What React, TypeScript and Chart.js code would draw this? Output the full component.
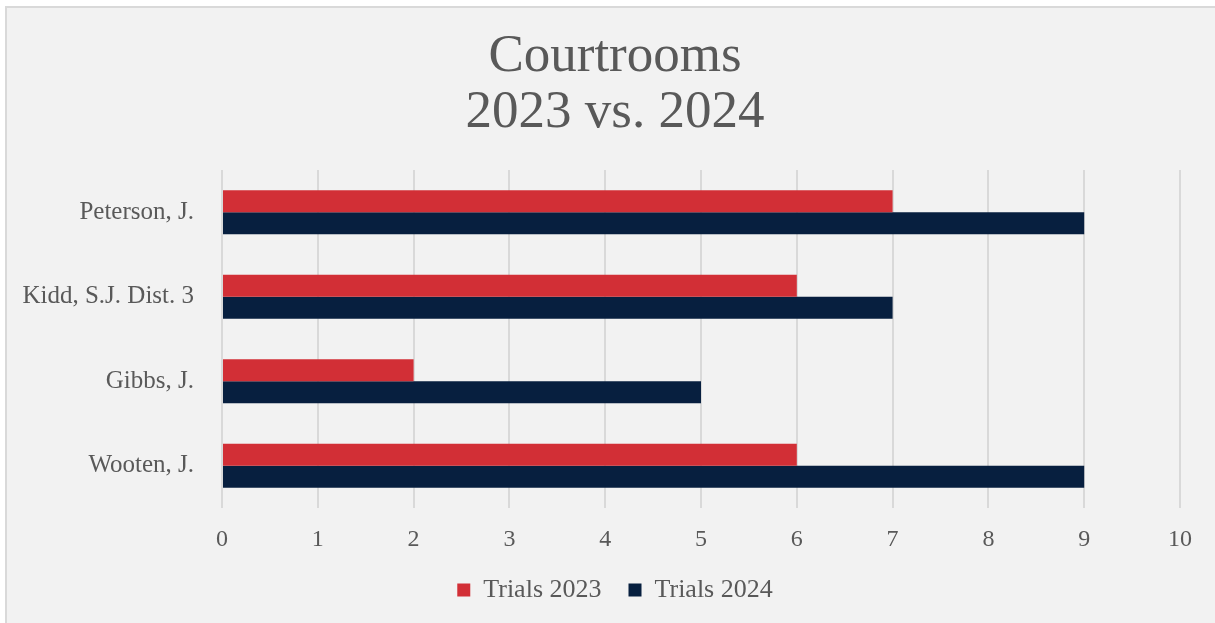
import React, { useEffect, useRef } from "react";
import { Chart, registerables } from "chart.js";

Chart.register(...registerables);

const categories = ["Peterson, J.", "Kidd, S.J. Dist. 3", "Gibbs, J.", "Wooten, J."];
const trials2023 = [7, 6, 2, 6];
const trials2024 = [9, 7, 5, 9];
const seriesNames = ["Trials 2023", "Trials 2024"];
const titleLines = ["Courtrooms", "2023 vs. 2024"];
const xMin = 0;
const xMax = 10;

const FONT = "'Liberation Serif', 'Times New Roman', serif";
const TEXT = "#595959";

export default function App() {
  const ref = useRef<HTMLCanvasElement | null>(null);

  useEffect(() => {
    if (!ref.current) return;
    const chart = new Chart(ref.current, {
      type: "bar",
      data: {
        labels: categories,
        datasets: [
          {
            label: seriesNames[0],
            data: trials2023,
            backgroundColor: "#d22f36",
            categoryPercentage: 0.52,
            barPercentage: 1,
          },
          {
            label: seriesNames[1],
            data: trials2024,
            backgroundColor: "#071f3f",
            categoryPercentage: 0.52,
            barPercentage: 1,
          },
        ],
      },
      options: {
        indexAxis: "y",
        responsive: false,
        animation: false,
        devicePixelRatio: 1,
        layout: { padding: { left: 8, right: 0, top: 0, bottom: 10 } },
        plugins: {
          title: {
            display: true,
            text: titleLines,
            color: TEXT,
            font: { family: FONT, size: 53, weight: "normal", lineHeight: 1.057 },
            padding: { top: 21, bottom: 29 },
          },
          legend: {
            position: "bottom",
            labels: {
              color: TEXT,
              font: { family: FONT, size: 26 },
              boxWidth: 13,
              boxHeight: 13,
              padding: 27,
            },
          },
          tooltip: { enabled: false },
        },
        scales: {
          x: {
            min: xMin,
            max: xMax,
            ticks: {
              stepSize: 1,
              color: TEXT,
              font: { family: FONT, size: 24 },
              padding: 17,
            },
            grid: { color: "#d9d9d9", lineWidth: 2, drawTicks: false },
            border: { display: false },
            afterFit: (scale: any) => {
              scale.height = 42;
            },
          },
          y: {
            ticks: {
              color: TEXT,
              font: { family: FONT, size: 25 },
              padding: 28,
            },
            grid: { display: false, drawTicks: false },
            border: { display: false },
            afterFit: (scale: any) => {
              scale.width = 207;
            },
          },
          yRight: {
            type: "linear",
            position: "right",
            ticks: { display: false },
            grid: { display: false, drawTicks: false },
            border: { display: false },
            afterFit: (scale: any) => {
              scale.width = 35;
            },
          },
        },
      },
    });
    return () => chart.destroy();
  }, []);

  return (
    <div
      style={{
        position: "absolute",
        left: 5,
        top: 6,
        width: 1210,
        height: 617,
        boxSizing: "border-box",
        borderTop: "2px solid #d9d9d9",
        borderLeft: "2px solid #d9d9d9",
        background: "#f2f2f2",
        overflow: "hidden",
      }}
    >
      <canvas ref={ref} width={1208} height={615} style={{ display: "block" }} />
    </div>
  );
}
